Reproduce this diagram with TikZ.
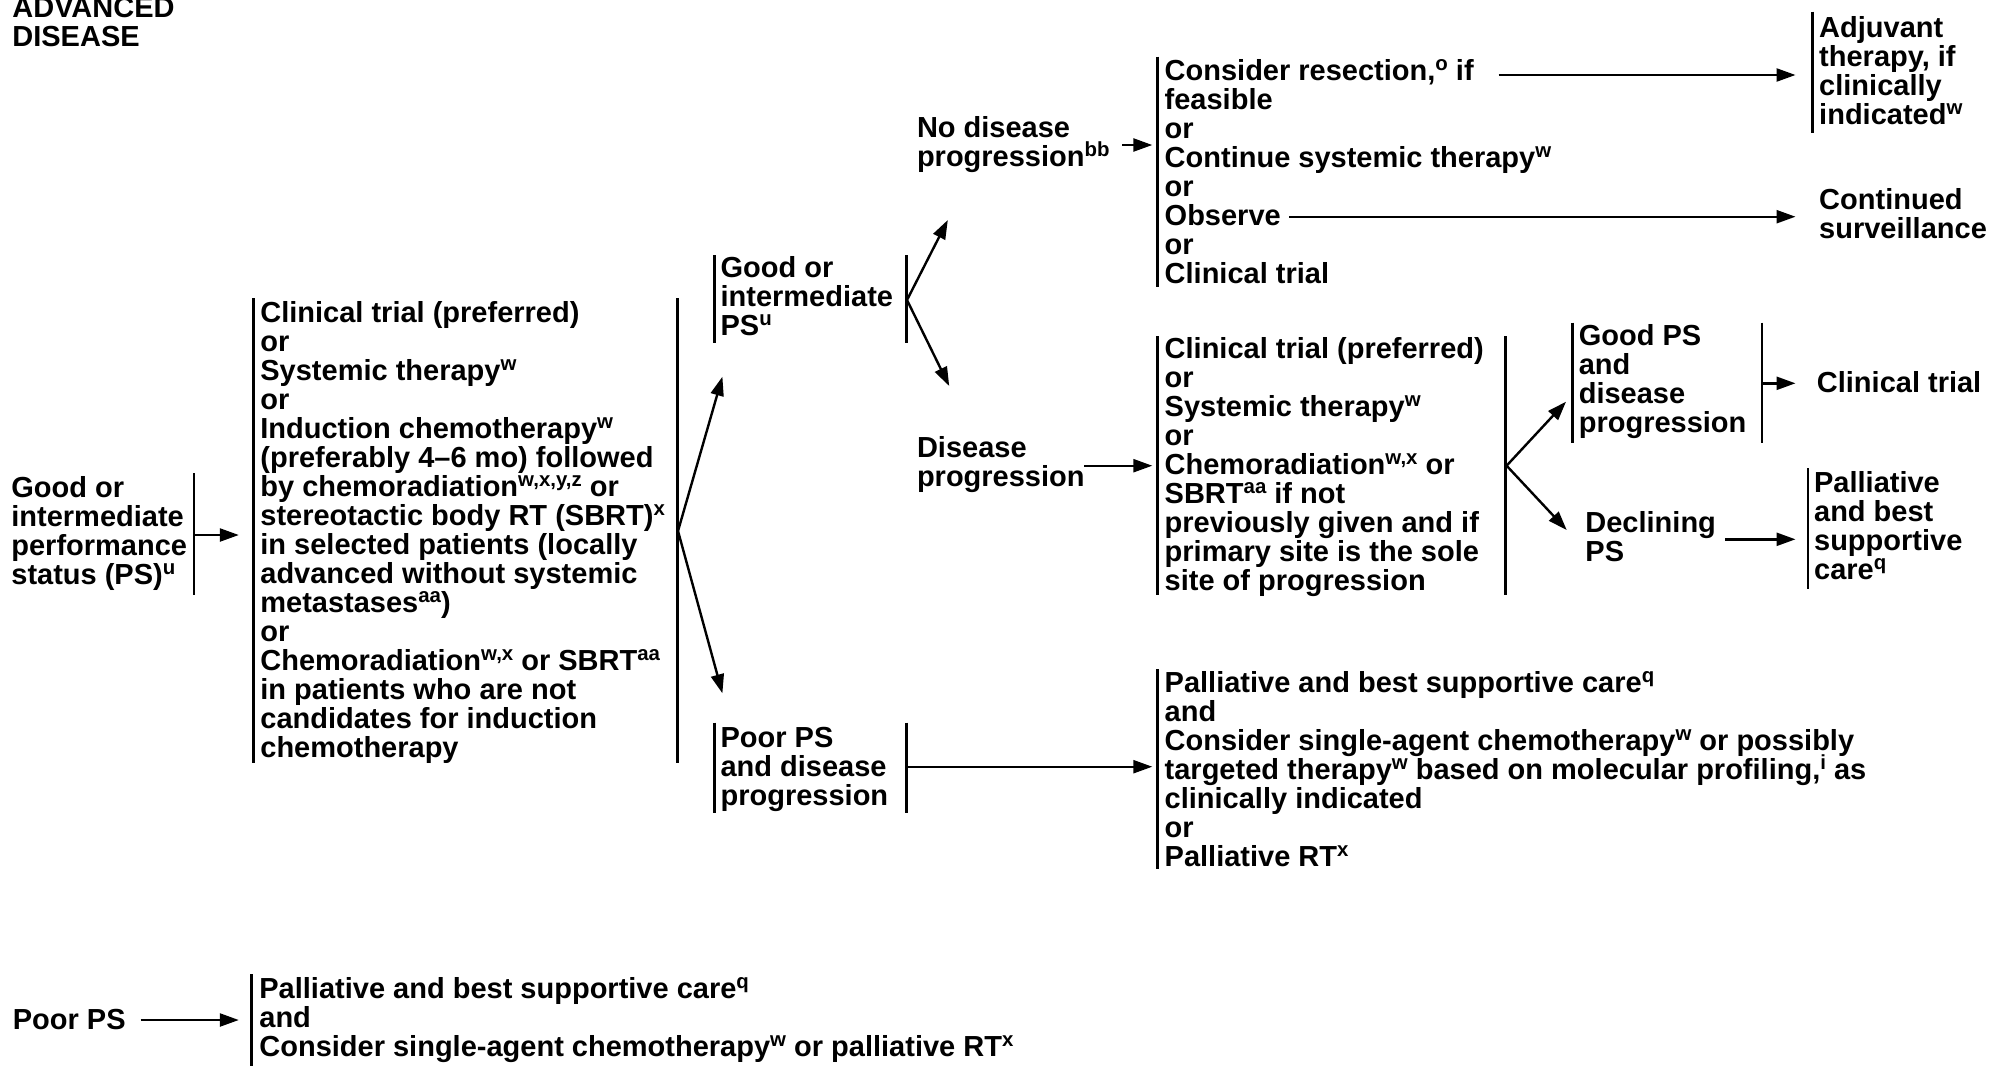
\documentclass[tikz,border=0pt]{standalone}
\usepackage{fontspec}
\setmainfont{Liberation Sans}
\usetikzlibrary{arrows.meta}
\newcommand\myfont{\fontsize{14.5pt}{14.5pt}\selectfont\bfseries\lineskiplimit=-100pt\lineskip=0pt\relax}
\newcommand\sps[1]{\smash{\raisebox{0.35em}{\fontsize{10.2pt}{10.2pt}\selectfont #1}}}
\newcommand\fl{\rule{0pt}{0.72em}}
\tikzset{
  txt/.style={anchor=north west, inner sep=0pt, align=left, font=\myfont},
  barline/.style={line width=1.2pt},
  arr/.style={line width=1.2pt, -{Triangle[length=9.5pt,width=6.5pt]}},
}
\begin{document}
\begin{tikzpicture}[x=0.5pt,y=-0.5pt]
\useasboundingbox (0,0) rectangle (1990,1066);
% ---------- text nodes ----------
\node[txt] (title) at (12,-4.2) {\fl ADVANCED\\DISEASE};
\node[txt] (gip) at (11,476.1) {\fl Good or\\intermediate\\performance\\status (PS)\sps{u}};
\node[txt] (main) at (260,300.8) {\fl Clinical trial (preferred)\\
or\\
Systemic therapy\sps{w}\\
or\\
Induction chemotherapy\sps{w}\\
(preferably 4–6 mo) followed\\
by chemoradiation\sps{w,x,y,z} or\\
stereotactic body RT (SBRT)\sps{x}\\
in selected patients (locally\\
advanced without systemic\\
metastases\sps{aa})\\
or\\
Chemoradiation\sps{w,x} or SBRT\sps{aa}\\
in patients who are not\\
candidates for induction\\
chemotherapy};
\node[txt] (gi) at (720.2,256.1) {\fl Good or\\intermediate\\PS\sps{u}};
\node[txt] (nodp) at (916.6,115.8) {\fl No disease\\progression\sps{bb}};
\node[txt] (box1) at (1164.3,59.4) {\fl Consider resection,\sps{o} if\\
feasible\\
or\\
Continue systemic therapy\sps{w}\\
or\\
Observe\\
or\\
Clinical trial};
\node[txt] (adj) at (1818.8,16.1) {\fl Adjuvant\\therapy, if\\clinically\\indicated\sps{w}};
\node[txt] (surv) at (1818.8,187.8) {\fl Continued\\surveillance};
\node[txt] (dp) at (916.6,435.8) {\fl Disease\\progression};
\node[txt] (box2) at (1164.3,337.4) {\fl Clinical trial (preferred)\\
or\\
Systemic therapy\sps{w}\\
or\\
Chemoradiation\sps{w,x} or\\
SBRT\sps{aa} if not\\
previously given and if\\
primary site is the sole\\
site of progression};
\node[txt] (goodps) at (1578.4,324.1) {\fl Good PS\\and\\disease\\progression};
\node[txt] (ct) at (1816.5,370.8) {\fl Clinical trial};
\node[txt] (decl) at (1585,510.8) {\fl Declining\\PS};
\node[txt] (pall) at (1813.7,470.8) {\fl Palliative\\and best\\supportive\\care\sps{q}};
\node[txt] (poorpd) at (720.2,725.8) {\fl Poor PS\\and disease\\progression};
\node[txt] (box3) at (1164.3,670.8) {\fl Palliative and best supportive care\sps{q}\\
and\\
Consider single-agent chemotherapy\sps{w} or possibly\\
targeted therapy\sps{w} based on molecular profiling,\sps{i} as\\
clinically indicated\\
or\\
Palliative RT\sps{x}};
\node[txt] (poor) at (12.5,1008.4) {\fl Poor PS};
\node[txt] (box4) at (259,976.8) {\fl Palliative and best supportive care\sps{q}\\
and\\
Consider single-agent chemotherapy\sps{w} or palliative RT\sps{x}};
% ---------- bracket bars ----------
\draw[barline] (194.2,473.3) -- (194.2,595);
\draw[barline] (253.6,298.3) -- (253.6,763.3);
\draw[barline] (677.6,298.3) -- (677.6,763.3);
\draw[barline] (714.4,255) -- (714.4,343.3);
\draw[barline] (906.3,255) -- (906.3,343.3);
\draw[barline] (1157.6,56.7) -- (1157.6,286.7);
\draw[barline] (1812.6,11.7) -- (1812.6,132.7);
\draw[barline] (1157.6,336) -- (1157.6,595);
\draw[barline] (1505.6,336) -- (1505.6,595);
\draw[barline] (1572.6,322.7) -- (1572.6,443.3);
\draw[barline] (1762,322.7) -- (1762,443.3);
\draw[barline] (1808,468.3) -- (1808,589.3);
\draw[barline] (714.4,722.7) -- (714.4,812.7);
\draw[barline] (906.3,722.7) -- (906.3,812.7);
\draw[barline] (1157.6,669.3) -- (1157.6,869.3);
\draw[barline] (251.3,974.3) -- (251.3,1066);
% ---------- connector end points ----------
\coordinate (gipR) at (194.2,535);
\coordinate (mainL) at (238.8,535);
\coordinate (mainR) at (678,531);
\coordinate (giIn) at (722.4,376.7);
\coordinate (poorIn) at (722.4,693.3);
\coordinate (giR) at (907,300);
\coordinate (nodpIn) at (947.8,220);
\coordinate (dpIn) at (949.2,386);
\coordinate (nodpR) at (1122,145);
\coordinate (box1L) at (1152.3,145);
\coordinate (resR) at (1498.7,75);
\coordinate (adjL) at (1795.5,75);
\coordinate (obsR) at (1289.3,216.7);
\coordinate (survL) at (1795.5,216.7);
\coordinate (dpR) at (1084,465.7);
\coordinate (box2L) at (1152.3,465.7);
\coordinate (box2R) at (1506.6,465.7);
\coordinate (goodIn) at (1566,401.7);
\coordinate (declIn) at (1566.7,530);
\coordinate (goodR) at (1762,383.3);
\coordinate (ctL) at (1795.5,383.3);
\coordinate (declR) at (1725.4,539.3);
\coordinate (pallL) at (1795.5,539.3);
\coordinate (poorpdR) at (906.3,766.7);
\coordinate (box3L) at (1152.3,766.7);
\coordinate (poorR) at (140.6,1020);
\coordinate (box4L) at (238.8,1020);
% ---------- connectors ----------
\draw[arr] (gipR) -- (mainL);
\draw[arr] (mainR) -- (giIn);
\draw[arr] (mainR) -- (poorIn);
\draw[arr] (giR) -- (nodpIn);
\draw[arr] (giR) -- (dpIn);
\draw[arr] (nodpR) -- (box1L);
\draw[arr] (resR) -- (adjL);
\draw[arr] (obsR) -- (survL);
\draw[arr] (dpR) -- (box2L);
\draw[arr] (box2R) -- (goodIn);
\draw[arr] (box2R) -- (declIn);
\draw[arr] (goodR) -- (ctL);
\draw[arr] (declR) -- (pallL);
\draw[arr] (poorpdR) -- (box3L);
\draw[arr] (poorR) -- (box4L);
\end{tikzpicture}
\end{document}
